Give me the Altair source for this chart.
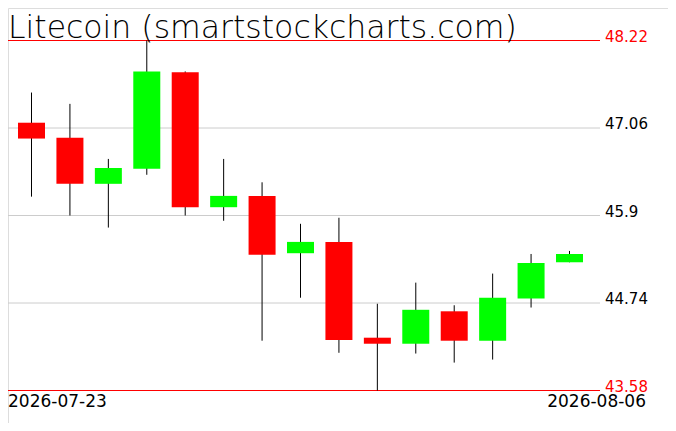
import altair as alt
import pandas as pd

title_text = "Litecoin (smartstockcharts.com)"
dates = ["2026-07-23", "2026-07-24", "2026-07-25", "2026-07-26", "2026-07-27",
         "2026-07-28", "2026-07-29", "2026-07-30", "2026-07-31", "2026-08-01",
         "2026-08-02", "2026-08-03", "2026-08-04", "2026-08-05", "2026-08-06"]
opens = [47.13, 46.93, 46.32, 46.52, 47.80, 46.01, 46.16, 45.40, 45.55, 44.28, 44.20, 44.63, 44.24, 44.80, 45.28]
highs = [47.53, 47.38, 46.65, 48.22, 47.81, 46.65, 46.34, 45.79, 45.87, 44.73, 45.01, 44.71, 45.13, 45.39, 45.43]
lows = [46.15, 45.90, 45.74, 46.44, 45.90, 45.83, 44.24, 44.81, 44.08, 43.58, 44.07, 43.95, 43.99, 44.68, 45.28]
closes = [46.92, 46.32, 46.53, 47.81, 46.01, 46.16, 45.38, 45.55, 44.25, 44.20, 44.65, 44.24, 44.81, 45.27, 45.39]

tick_values = [48.22, 47.06, 45.9, 44.74, 43.58]
tick_labels = ["48.22", "47.06", "45.9", "44.74", "43.58"]
tick_kinds = ["limit", "grid", "grid", "grid", "limit"]

df = pd.DataFrame({
    "i": list(range(len(dates))),
    "date": dates,
    "open": opens,
    "high": highs,
    "low": lows,
    "close": closes,
})
df["dir"] = ["up" if c >= o else "down" for o, c in zip(opens, closes)]

ticks = pd.DataFrame({"v": tick_values, "label": tick_labels, "kind": tick_kinds})

xs = alt.Scale(domain=[0, len(dates) - 1], range=[18.5, 566.5], nice=False, zero=False)
ys = alt.Scale(domain=[43.58, 48.22], range=[382.5, 32.5], nice=False, zero=False)

X = alt.X("i:Q", scale=xs, axis=None)
thin = "DejaVu Sans"

lines = alt.Chart(ticks).mark_rule(strokeWidth=1).encode(
    y=alt.Y("v:Q", scale=ys, axis=None),
    x=alt.value(0),
    x2=alt.value(592),
    color=alt.Color("kind:N", scale=alt.Scale(domain=["limit", "grid"], range=["#ff0000", "#cccccc"]), legend=None),
)

labels = alt.Chart(ticks).mark_text(align="left", baseline="alphabetic", font=thin, fontSize=15, dy=1).encode(
    y=alt.Y("v:Q", scale=ys, axis=None),
    x=alt.value(597),
    text="label:N",
    color=alt.Color("kind:N", scale=alt.Scale(domain=["limit", "grid"], range=["#ff0000", "#000000"]), legend=None),
)

wicks = alt.Chart(df).mark_rule(color="black", strokeWidth=1).encode(
    x=X,
    y=alt.Y("low:Q", scale=ys, axis=None),
    y2="high:Q",
)

bodies = alt.Chart(df).mark_bar(size=27).encode(
    x=X,
    y=alt.Y("open:Q", scale=ys, axis=None),
    y2="close:Q",
    fill=alt.Fill("dir:N", scale=alt.Scale(domain=["up", "down"], range=["#00ff00", "#ff0000"]), legend=None),
)

title = alt.Chart(pd.DataFrame({"t": [title_text]})).mark_text(
    align="left", baseline="alphabetic", font=thin, fontWeight=200, fontSize=31.5, color="black"
).encode(x=alt.value(0), y=alt.value(30), text="t:N")

date_df = pd.DataFrame({"d": [dates[0], dates[-1]], "side": ["first", "last"]})
date_first = alt.Chart(date_df[date_df.side == "first"]).mark_text(
    align="left", baseline="alphabetic", font=thin, fontSize=17, color="black"
).encode(x=alt.value(0), y=alt.value(399), text="d:N")
date_last = alt.Chart(date_df[date_df.side == "last"]).mark_text(
    align="right", baseline="alphabetic", font=thin, fontSize=17, color="black"
).encode(x=alt.value(638), y=alt.value(399), text="d:N")

chart = alt.layer(lines, wicks, bodies, labels, title, date_first, date_last).resolve_scale(
    color="independent"
).properties(
    width=660, height=415, autosize=alt.AutoSizeParams(type="none"), padding=0
).configure_view(stroke=None).configure(background="white")

chart.save("out.html", embed_options={"renderer": "svg", "actions": False})
